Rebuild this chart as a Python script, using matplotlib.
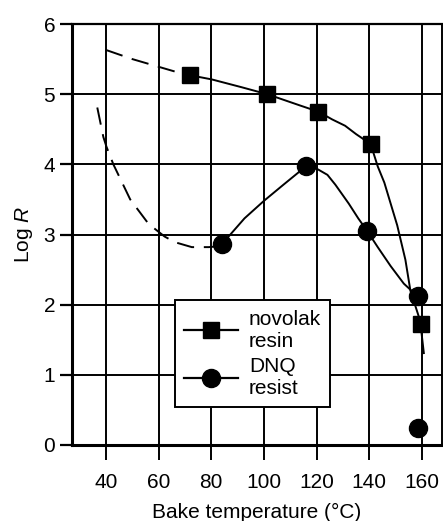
import matplotlib
matplotlib.use("Agg")
import matplotlib.pyplot as plt

plt.rcParams['font.family'] = ['Liberation Sans', 'DejaVu Sans']
plt.rcParams['mathtext.fontset'] = 'custom'
plt.rcParams['mathtext.rm'] = 'Liberation Sans'
plt.rcParams['mathtext.it'] = 'Liberation Sans:italic'

# measured points
novolak_T = [71.9, 101.2, 120.7, 140.5, 159.5]
novolak_logR = [5.27, 5.0, 4.75, 4.29, 1.72]
dnq_T = [84.2, 115.8, 139.2, 158.3, 158.3]
dnq_logR = [2.87, 3.97, 3.05, 2.12, 0.24]

# hand-drawn trend curves
novolak_fit_T = [71.9, 80.2, 91.4, 101.2, 107.4, 113.6, 120.7, 125.9, 130.8, 135, 140.5,
                 143.2, 145.7, 150.6, 153.7, 155.6, 157.5, 159.3, 160.7]
novolak_fit_R = [5.27, 5.21, 5.10, 5.0, 4.92, 4.84, 4.75, 4.64, 4.55, 4.43, 4.29,
                 3.97, 3.74, 3.13, 2.64, 2.2, 1.98, 1.77, 1.31]
novolak_dash_T = [40, 50, 60, 66.4, 69]
novolak_dash_R = [5.63, 5.5, 5.39, 5.32, 5.29]

dnq_fit_T = [84.2, 87.7, 92.6, 100, 107.4, 113.6, 115.8, 120.4, 124.1, 127.1, 132.2,
             135.8, 139.2, 143.2, 148.1, 153.1, 158.3]
dnq_fit_R = [2.87, 3.02, 3.23, 3.48, 3.71, 3.90, 3.97, 3.93, 3.85, 3.71, 3.44,
             3.23, 3.05, 2.82, 2.55, 2.30, 2.12]
dnq_dash_T = [36.7, 39, 40.2, 42.8, 49.2, 56.2, 62.3, 66.2, 72.6, 79, 82]
dnq_dash_R = [4.81, 4.39, 4.25, 4.0, 3.5, 3.15, 2.97, 2.89, 2.82, 2.82, 2.83]

x_ticks = [40, 60, 80, 100, 120, 140, 160]
y_ticks = [0, 1, 2, 3, 4, 5, 6]

fig = plt.figure(figsize=(4.43, 5.21), dpi=100)
ax = fig.add_axes([72 / 443, 1 - 445 / 521, 370 / 443, 421 / 521])

ax.set_xlim(27.1, 167.6)
ax.set_ylim(0, 6)
ax.set_xticks(x_ticks)
ax.set_yticks(y_ticks)
ax.grid(True, color='black', linewidth=1.4, zorder=0)
ax.set_axisbelow(True)

for side in ['left', 'bottom']:
    ax.spines[side].set_linewidth(2.2)
ax.spines['top'].set_linewidth(1.6)
ax.spines['right'].set_linewidth(1.4)

ax.tick_params(axis='x', direction='out', length=10.8, width=1.4, pad=9, labelsize=15)
ax.tick_params(axis='y', direction='out', length=8.6, width=1.6, pad=3.5, labelsize=15)

dash = (9, 5)
ax.plot(novolak_fit_T, novolak_fit_R, color='black', lw=1.4, zorder=3)
ax.plot(novolak_dash_T, novolak_dash_R, color='black', lw=1.4, dashes=dash, zorder=3)
ax.plot(dnq_fit_T, dnq_fit_R, color='black', lw=1.4, zorder=3)
ax.plot(dnq_dash_T, dnq_dash_R, color='black', lw=1.4, dashes=dash, zorder=3)

ax.plot(novolak_T, novolak_logR, ls='none', marker='s', ms=12, color='black', zorder=4)
ax.plot(dnq_T, dnq_logR, ls='none', marker='o', ms=13, color='black', zorder=4)

h1, = ax.plot([], [], color='black', lw=1.6, marker='s', ms=12, label='novolak\nresin')
h2, = ax.plot([], [], color='black', lw=1.6, marker='o', ms=13, label='DNQ\nresist')
leg = ax.legend(handles=[h1, h2], loc='upper left', bbox_to_anchor=(0.278, 0.344),
                fontsize=15, frameon=True, fancybox=False, edgecolor='black',
                framealpha=1, handlelength=2.6, handletextpad=0.5,
                borderpad=0.45, labelspacing=0.3, borderaxespad=0)
leg.get_frame().set_linewidth(1.4)
leg.set_zorder(5)

ax.set_xlabel('Bake temperature (°C)', fontsize=15, labelpad=8)
ax.set_ylabel('Log $R$', fontsize=15, labelpad=6)

fig.savefig('out.png', dpi=100)
